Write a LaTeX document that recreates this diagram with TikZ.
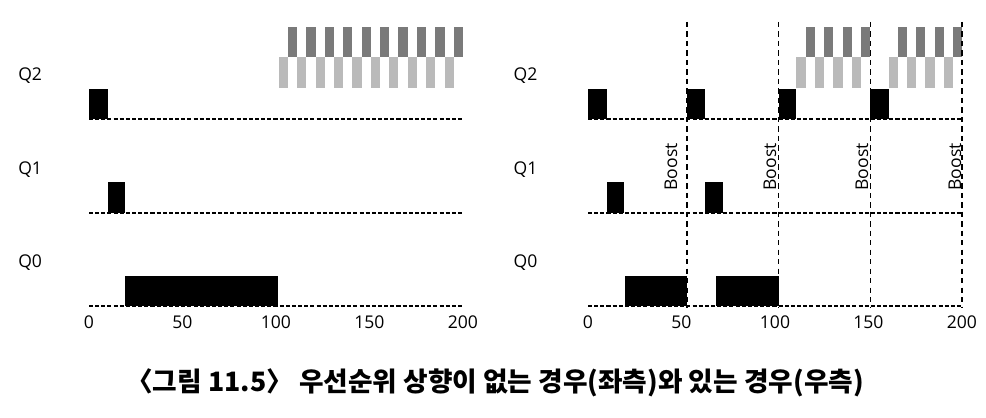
\documentclass[tikz,border=0pt]{standalone}
\usepackage{fontspec}
\setmainfont{Open Sans}
\newfontfamily\kor{Noto Sans CJK KR}

\begin{document}
\begin{tikzpicture}[
    x=0.02cm, y=-0.02cm, font=\fontsize{10}{12}\selectfont,
    job/.style={fill=black},
    hiq/.style={fill=black!52},
    loq/.style={fill=black!27},
    base/.style={line width=1.1pt,dash pattern=on 2.3pt off 1.2pt},
    boostline/.style={line width=0.8pt,dash pattern=on 3pt off 2.4pt},
    qlabel/.style={anchor=west,inner sep=0pt},
    tick/.style={inner sep=0pt},
    boost/.style={rotate=90,inner sep=0pt},
    caption/.style={font=\kor\bfseries\fontsize{15.2}{17}\selectfont}
]
\useasboundingbox (0,0) rectangle (986,418);

% left: without priority boost
\begin{scope}[shift={(89,0)}, x=0.0374cm]
\foreach \q/\y in {2/119,1/213,0/306} {
    \node[qlabel] (lq\q) at (-38,\y-43) {Q\q};
    \draw[base] (0,\y) -- (200,\y);
}
\fill[job] (0,89) rectangle (10,119);
\fill[job] (10,182) rectangle (19.5,213);
\fill[job] (19.5,276) rectangle (101,306);
\foreach \k in {0,...,9} {
    \fill[loq] ({101.5+9.85*\k},57) rectangle ({106.4+9.85*\k},88);
    \fill[hiq] ({106.4+9.85*\k},27) rectangle ({111.35+9.85*\k},57);
}
\foreach \t in {0,50,...,200}
    \node[tick] (lt\t) at (\t,322) {\t};
\end{scope}

% right: with boost every 50
\begin{scope}[shift={(588,0)}, x=0.0374cm]
\foreach \q/\y in {2/119,1/213,0/306} {
    \node[qlabel] (rq\q) at (-40,\y-43) {Q\q};
    \draw[base] (0,\y) -- (200,\y);
}
\foreach \a/\b in {0/10,53/62.5,102/111.5,151/161}
    \fill[job] (\a,89) rectangle (\b,119);
\foreach \a/\b in {10/19.5,62.5/72}
    \fill[job] (\a,182) rectangle (\b,213);
\foreach \a/\b in {19.7/53,68.5/102}
    \fill[job] (\a,276) rectangle (\b,306);
\foreach \s/\p in {111.5/9.875,161/9.75}
  \foreach \k in {0,...,3} {
    \fill[loq] ({\s+\p*\k},57) rectangle ({\s+\p*\k+\p/2},88);
    \fill[hiq] ({\s+\p*\k+\p/2},27) rectangle ({\s+\p*(\k+1)},57);
  }
\foreach \b/\l [count=\i] in {53/44.4,102/97.3,151/146.5,200/196.3} {
    \draw[boostline] (\b,22) -- (\b,307);
    \node[boost] (bst\i) at (\l,167) {Boost};
}
\foreach \t in {0,50,...,200}
    \node[tick] (rt\t) at (\t,322) {\t};
\end{scope}

\node[caption] (cap) at (495,383) {〈그림 11.5〉 우선순위 상향이 없는 경우(좌측)와 있는 경우(우측)};
\end{tikzpicture}
\end{document}
